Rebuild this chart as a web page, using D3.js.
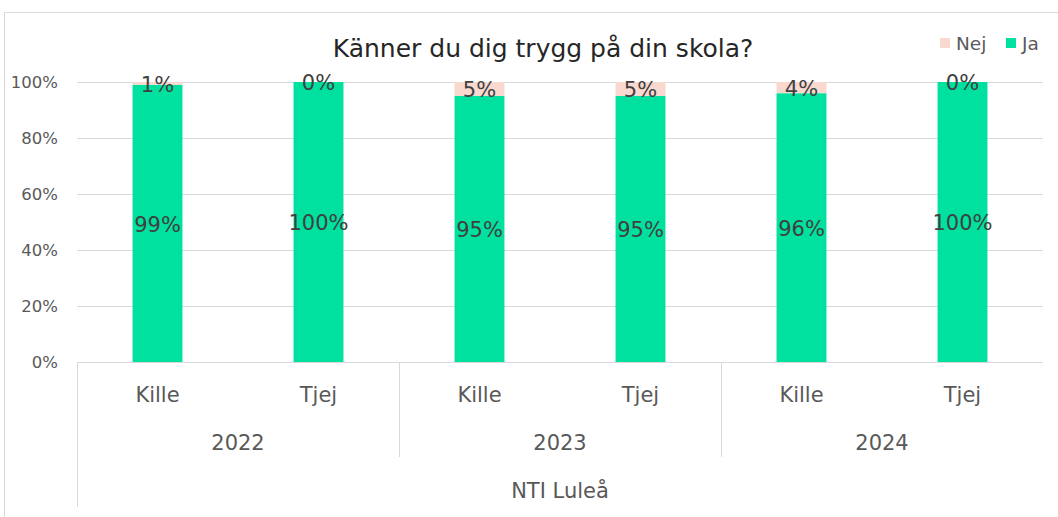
<!DOCTYPE html>
<html>
<head>
<meta charset="utf-8">
<script src="https://cdn.jsdelivr.net/npm/d3@7"></script>
<style>
  body { margin: 0; background: #fff; }
  text { font-family: "DejaVu Sans", "Open Sans", sans-serif; }
</style>
</head>
<body>
<svg width="1058" height="517"></svg>
<script>
// data
var years = ["2022", "2023", "2024"]
var genders = ["Kille", "Tjej"]
var jaValues = [99, 100, 95, 95, 96, 100]
var nejValues = [1, 0, 5, 5, 4, 0]
var yTicks = [0, 20, 40, 60, 80, 100]
var outerLabel = "NTI Luleå"

var svg = d3.select("svg")
var margin = { top: 82, left: 77, right: 15, bottom: 155 }
var width = 1058 - margin.left - margin.right
var height = 517 - margin.top - margin.bottom

//chart border
svg.append("path")
    .attr("d", "M4.5,517 V12.5 H1058")
    .attr("fill", "none").attr("stroke", "#d9d9d9")

var cats = []
years.forEach(function(y) { genders.forEach(function(g) { cats.push(y + "|" + g) }) })

var x = d3.scaleBand().domain(cats).range([0, width]).paddingInner(0.69).paddingOuter(0.345)
var yScale = d3.scaleLinear().domain([0, 100]).range([height, 0])

var g = svg.append("g").attr("transform", "translate(" + margin.left + "," + margin.top + ")")

//gridlines
var yAxis = d3.axisLeft(yScale).tickValues(yTicks).tickSize(-width).tickFormat(function(d) { return d + "%" })
var ya = g.append("g").call(yAxis)
ya.select(".domain").remove()
ya.selectAll(".tick line").attr("stroke", "#d9d9d9")
ya.selectAll(".tick text").attr("x", -19).attr("fill", "#595959").style("font-size", "16.5px")

var stack = cats.map(function(c, i) { return { cat: c, ja: jaValues[i], nej: nejValues[i] } })

g.selectAll(".ja").data(stack).enter().append("rect")
    .attr("x", function(d) { return x(d.cat) })
    .attr("width", x.bandwidth())
    .attr("y", function(d) { return yScale(d.ja) })
    .attr("height", function(d) { return height - yScale(d.ja) })
    .attr("fill", "#00e09e")

g.selectAll(".nej").data(stack).enter().append("rect")
    .attr("x", function(d) { return x(d.cat) })
    .attr("width", x.bandwidth())
    .attr("y", function(d) { return yScale(d.ja + d.nej) })
    .attr("height", function(d) { return yScale(d.ja) - yScale(d.ja + d.nej) })
    .attr("fill", "#f8d8cf")

//data labels
g.selectAll(".jalab").data(stack).enter().append("text")
    .attr("x", function(d) { return x(d.cat) + x.bandwidth() / 2 })
    .attr("y", function(d) { return yScale(d.ja / 2) })
    .attr("dy", "0.4em").attr("text-anchor", "middle")
    .attr("fill", "#404040").style("font-size", "21px")
    .text(function(d) { return d.ja + "%" })

g.selectAll(".nejlab").data(stack).enter().append("text")
    .attr("x", function(d) { return x(d.cat) + x.bandwidth() / 2 })
    .attr("y", function(d) { return yScale(d.ja + d.nej / 2) })
    .attr("dy", "0.4em").attr("text-anchor", "middle")
    .attr("fill", "#404040").style("font-size", "21px")
    .text(function(d) { return d.nej + "%" })

//multi-level category axis
var axisColor = "#d9d9d9"
g.append("line").attr("x1", 0).attr("x2", width).attr("y1", height + 0.5).attr("y2", height + 0.5).attr("stroke", axisColor)
g.append("line").attr("x1", 0.5).attr("x2", 0.5).attr("y1", height).attr("y2", height + 145).attr("stroke", axisColor)
var groupW = width / years.length
years.forEach(function(yr, i) {
    if (i > 0) {
        g.append("line").attr("x1", i * groupW + 0.5).attr("x2", i * groupW + 0.5)
            .attr("y1", height).attr("y2", height + 95).attr("stroke", axisColor)
    }
    g.append("text").attr("x", (i + 0.5) * groupW).attr("y", height + 88)
        .attr("text-anchor", "middle").attr("fill", "#595959").style("font-size", "21px").text(yr)
})
g.selectAll(".catlab").data(cats).enter().append("text")
    .attr("x", function(d) { return x(d) + x.bandwidth() / 2 })
    .attr("y", height + 40)
    .attr("text-anchor", "middle").attr("fill", "#595959").style("font-size", "21px")
    .text(function(d) { return d.split("|")[1] })
g.append("text").attr("x", width / 2).attr("y", height + 136)
    .attr("text-anchor", "middle").attr("fill", "#595959").style("font-size", "21px").text(outerLabel)

//title
svg.append("text").attr("x", 543).attr("y", 57).attr("text-anchor", "middle")
    .attr("fill", "#262626").style("font-size", "25px").text("Känner du dig trygg på din skola?")

//legend
var legend = [["Nej", "#f8d8cf", 940], ["Ja", "#00e09e", 1006]]
legend.forEach(function(l) {
    svg.append("rect").attr("x", l[2]).attr("y", 38).attr("width", 10).attr("height", 10).attr("fill", l[1])
    svg.append("text").attr("x", l[2] + 16).attr("y", 50).attr("fill", "#595959").style("font-size", "18.5px").text(l[0])
})
</script>
</body>
</html>
